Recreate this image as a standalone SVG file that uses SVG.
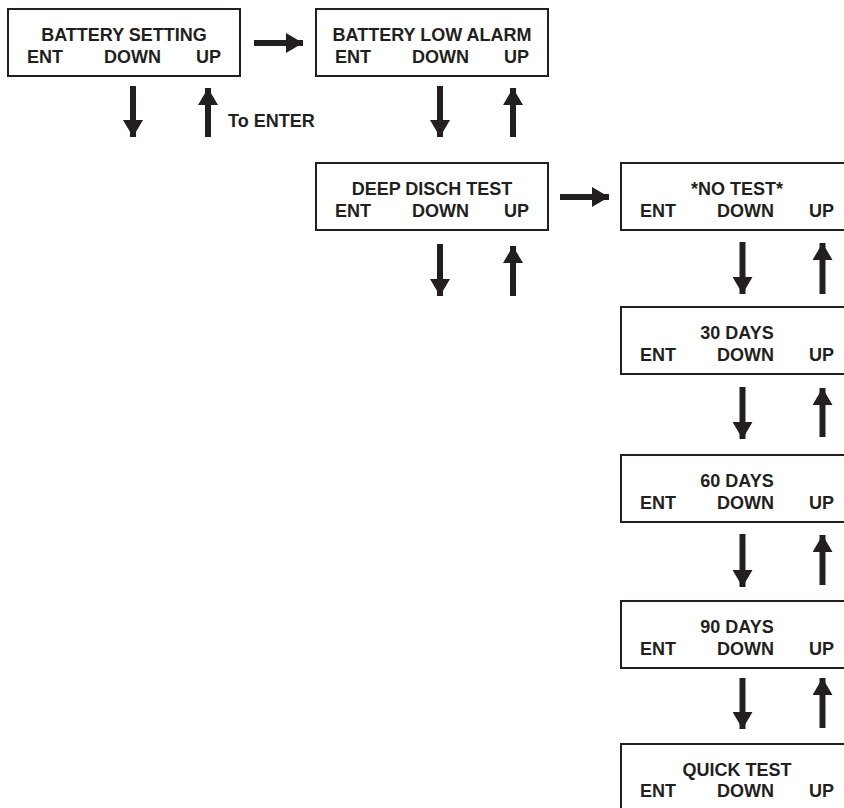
<svg xmlns="http://www.w3.org/2000/svg" width="844" height="808" viewBox="0 0 844 808">
<style>
.box{fill:#fff;stroke:#231f20;stroke-width:2}
.t{font-family:"Liberation Sans",Arial,sans-serif;font-weight:bold;font-size:18px;fill:#231f20}
.m{text-anchor:middle}
.a{stroke:#231f20;stroke-width:6;fill:none;marker-end:url(#ah)}
</style>
<defs>
<marker id="ah" markerUnits="userSpaceOnUse" viewBox="0 0 17 20" markerWidth="17" markerHeight="20" refX="17" refY="10" orient="auto">
<path d="M0,0 L17,10 L0,20 z" fill="#231f20"/>
</marker>
</defs>
<rect width="844" height="808" fill="#fff"/>
<g id="connectors">
<line class="a" x1="254" y1="43" x2="303" y2="43"/>
<line class="a" x1="560" y1="197" x2="609" y2="197"/>
<line class="a" x1="133" y1="86" x2="133" y2="137"/>
<line class="a" x1="208" y1="137" x2="208" y2="88"/>
<line class="a" x1="440" y1="86" x2="440" y2="137"/>
<line class="a" x1="513" y1="137" x2="513" y2="88"/>
<line class="a" x1="440" y1="244" x2="440" y2="296"/>
<line class="a" x1="513" y1="296" x2="513" y2="246"/>
<line class="a" x1="742.5" y1="242" x2="742.5" y2="294"/>
<line class="a" x1="822.5" y1="294" x2="822.5" y2="243"/>
<line class="a" x1="742.5" y1="387" x2="742.5" y2="439"/>
<line class="a" x1="822.5" y1="437" x2="822.5" y2="388"/>
<line class="a" x1="742.5" y1="534" x2="742.5" y2="587"/>
<line class="a" x1="822.5" y1="585" x2="822.5" y2="535"/>
<line class="a" x1="742.5" y1="678" x2="742.5" y2="729"/>
<line class="a" x1="822.5" y1="728" x2="822.5" y2="678"/>
</g>
<text class="t" x="228" y="127">To ENTER</text>
<g id="battery-setting">
<rect class="box" x="8" y="9" width="232" height="67"/>
<text class="t m" x="124" y="41">BATTERY SETTING</text>
<text class="t" x="27" y="63">ENT</text><text class="t" x="104" y="63">DOWN</text><text class="t" x="196" y="63">UP</text>
</g>
<g id="battery-low-alarm">
<rect class="box" x="316" y="9" width="232" height="67"/>
<text class="t m" x="432" y="41">BATTERY LOW ALARM</text>
<text class="t" x="335" y="63">ENT</text><text class="t" x="412" y="63">DOWN</text><text class="t" x="504" y="63">UP</text>
</g>
<g id="deep-disch-test">
<rect class="box" x="316" y="163" width="232" height="67"/>
<text class="t m" x="432" y="195">DEEP DISCH TEST</text>
<text class="t" x="335" y="217">ENT</text><text class="t" x="412" y="217">DOWN</text><text class="t" x="504" y="217">UP</text>
</g>
<g id="no-test">
<rect class="box" x="621" y="163" width="232" height="67"/>
<text class="t m" x="737" y="195">*NO TEST*</text>
<text class="t" x="640" y="217">ENT</text><text class="t" x="717" y="217">DOWN</text><text class="t" x="809" y="217">UP</text>
</g>
<g id="days-30">
<rect class="box" x="621" y="307" width="232" height="67"/>
<text class="t m" x="737" y="339">30 DAYS</text>
<text class="t" x="640" y="361">ENT</text><text class="t" x="717" y="361">DOWN</text><text class="t" x="809" y="361">UP</text>
</g>
<g id="days-60">
<rect class="box" x="621" y="455" width="232" height="67"/>
<text class="t m" x="737" y="487">60 DAYS</text>
<text class="t" x="640" y="509">ENT</text><text class="t" x="717" y="509">DOWN</text><text class="t" x="809" y="509">UP</text>
</g>
<g id="days-90">
<rect class="box" x="621" y="601" width="232" height="67"/>
<text class="t m" x="737" y="633">90 DAYS</text>
<text class="t" x="640" y="655">ENT</text><text class="t" x="717" y="655">DOWN</text><text class="t" x="809" y="655">UP</text>
</g>
<g id="quick-test">
<rect class="box" x="621" y="744" width="232" height="67"/>
<text class="t m" x="737" y="776">QUICK TEST</text>
<text class="t" x="640" y="797">ENT</text><text class="t" x="717" y="797">DOWN</text><text class="t" x="809" y="797">UP</text>
</g>
</svg>
